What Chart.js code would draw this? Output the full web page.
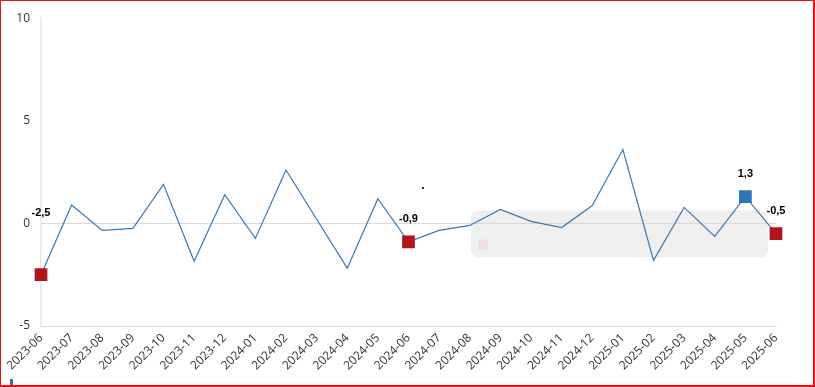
<!DOCTYPE html>
<html>
<head>
<meta charset="utf-8">
<script src="https://cdn.jsdelivr.net/npm/chart.js@4"></script>
<style>
  html,body{margin:0;padding:0;background:#fff;}
  #wrap{position:relative;width:815px;height:387px;overflow:hidden;}
  #frame{position:absolute;left:0;top:0;width:815px;height:387px;box-sizing:border-box;border:1px solid #e0161b;border-right-width:2px;border-bottom-width:2px;pointer-events:none;}
  #mark{position:absolute;left:10px;top:379px;width:3px;height:7px;background:#3567c4;}
  #dot{position:absolute;left:422px;top:187px;width:2px;height:2px;background:#2a2f8a;}
</style>
</head>
<body>
<div id="wrap">
  <canvas id="c" width="815" height="387"></canvas>
  <div id="dot"></div>
  <div id="mark"></div>
  <div id="frame"></div>
</div>
<script>
const categories = ["2023-06","2023-07","2023-08","2023-09","2023-10","2023-11","2023-12","2024-01","2024-02","2024-03","2024-04","2024-05","2024-06","2024-07","2024-08","2024-09","2024-10","2024-11","2024-12","2025-01","2025-02","2025-03","2025-04","2025-05","2025-06"];
const values = [-2.5, 0.9, -0.34, -0.24, 1.9, -1.84, 1.4, -0.73, 2.6, 0.2, -2.18, 1.2, -0.9, -0.34, -0.1, 0.68, 0.1, -0.2, 0.87, 3.6, -1.8, 0.78, -0.63, 1.3, -0.5];
const highlighted = ["2023-06","2024-06","2025-05","2025-06"];
const yTicks = [-5, 0, 5, 10];

const RED = '#b3151c', BLUE = '#2f74b5';
const pointRadius = categories.map(c => highlighted.includes(c) ? 9 : 0);
const pointColors = categories.map(c => c === "2025-05" ? BLUE : RED);

const boxPlugin = {
  id: 'bgbox',
  beforeDraw(chart) {
    const {ctx, chartArea: a} = chart;
    const w = a.right - a.left, h = a.bottom - a.top;
    const x0 = a.left + w * 0.585, x1 = a.left + w * 0.989;
    const y0 = a.top + h * 0.6246, y1 = a.top + h * 0.7767;
    ctx.save();
    ctx.fillStyle = '#efefef';
    ctx.beginPath();
    ctx.roundRect(x0, y0, x1 - x0, y1 - y0, 7);
    ctx.fill();
    ctx.fillStyle = '#f3dcdd';
    const sx = x0 + 7, sy = y0 + 29;
    ctx.fillRect(sx, sy, 10, 10);
    ctx.restore();
  }
};

const labelPlugin = {
  id: 'ptlabels',
  afterDatasetsDraw(chart, args, opts) {
    const {ctx} = chart;
    const meta = chart.getDatasetMeta(0);
    ctx.save();
    ctx.font = 'bold 11px "Liberation Sans", Arial, sans-serif';
    ctx.fillStyle = '#000';
    ctx.textAlign = 'center';
    ctx.textBaseline = 'middle';
    categories.forEach((c, i) => {
      if (!highlighted.includes(c)) return;
      const p = meta.data[i];
      const off = (opts.offsets && opts.offsets[c]) || 23;
      ctx.fillText(values[i].toFixed(1).replace('.', ','), p.x, p.y - off);
    });
    ctx.restore();
  }
};

new Chart(document.getElementById('c'), {
  type: 'line',
  data: {
    labels: categories,
    datasets: [{
      data: values,
      borderColor: '#3a78b2',
      borderWidth: 1.2,
      tension: 0,
      pointStyle: 'rect',
      pointRadius: pointRadius,
      pointHoverRadius: pointRadius,
      pointBackgroundColor: pointColors,
      pointBorderWidth: 0,
      pointBorderColor: pointColors
    }]
  },
  plugins: [boxPlugin, labelPlugin],
  options: {
    responsive: false,
    animation: false,
    events: [],
    layout: {padding: {top: 17, right: 39, left: 0, bottom: 0}},
    plugins: {
      legend: {display: false},
      tooltip: {enabled: false},
      ptlabels: {offsets: {"2023-06": 62}}
    },
    scales: {
      x: {
        offset: false,
        grid: {display: false, drawTicks: false},
        border: {display: true, color: '#dcdcdc', width: 1},
        ticks: {
          autoSkip: false,
          minRotation: 45,
          maxRotation: 45,
          padding: 5,
          color: '#333333',
          font: {family: '"Open Sans", sans-serif', size: 12}
        },
        afterFit(s) { s.height = 61; }
      },
      y: {
        min: -5,
        max: 10,
        afterBuildTicks(s) { s.ticks = yTicks.map(v => ({value: v})); },
        grid: {
          drawTicks: false,
          color: ctx => (ctx.tick && ctx.tick.value === 0) ? '#d9d9d9' : 'rgba(0,0,0,0)'
        },
        border: {display: true, color: '#e8e8e8', width: 1.5},
        ticks: {
          padding: 11,
          color: '#333333',
          font: {family: '"Open Sans", sans-serif', size: 12}
        },
        afterFit(s) { s.width = 41; }
      }
    }
  }
});
</script>
</body>
</html>
